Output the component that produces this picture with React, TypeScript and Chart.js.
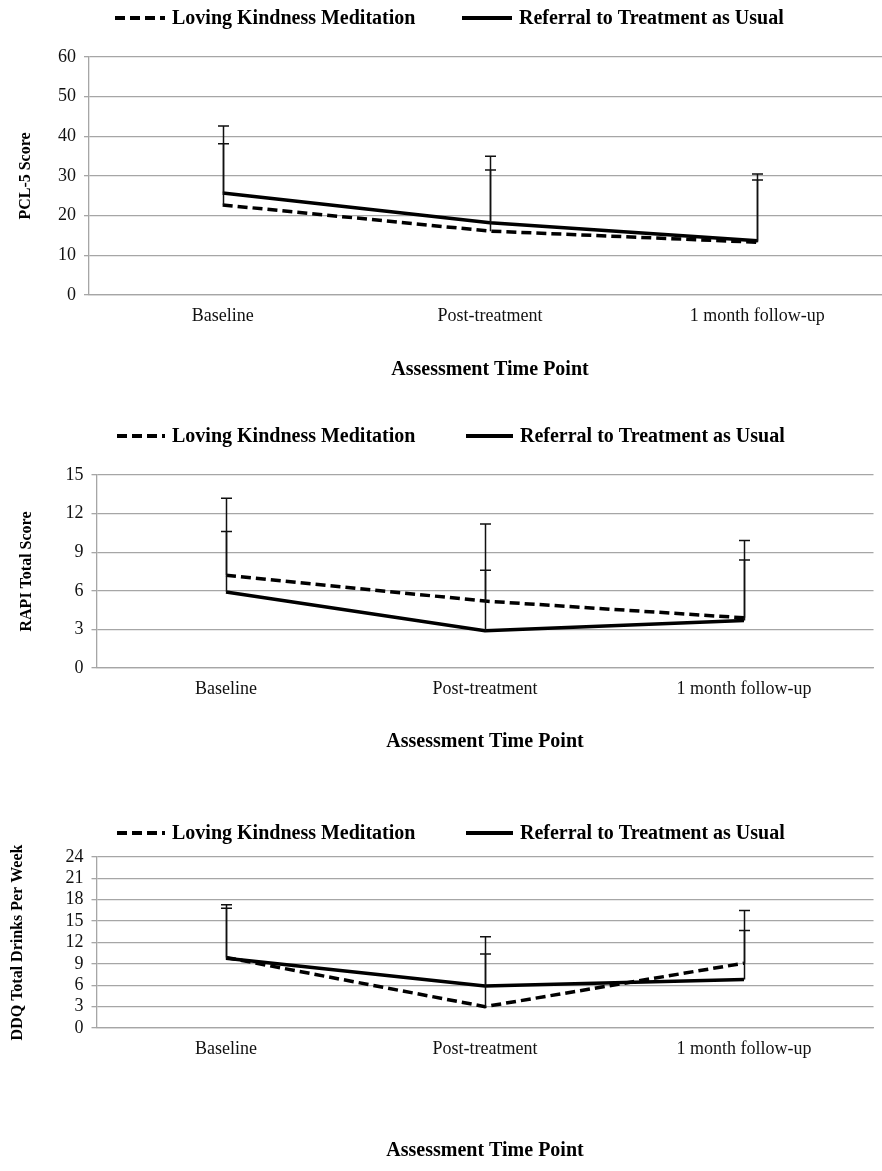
import React, { useEffect, useRef } from "react";
import { Chart, registerables } from "chart.js";

Chart.register(...registerables);

// ---------- data ----------
const categories = ["Baseline", "Post-treatment", "1 month follow-up"];
const seriesNames = ["Loving Kindness Meditation", "Referral to Treatment as Usual"];
const xAxisTitle = "Assessment Time Point";

// PCL-5
const pclLkm = [22.7, 16.1, 13.3];
const pclTau = [25.7, 18.2, 13.7];
const pclLkmSd = [15.4, 15.4, 15.7];
const pclTauSd = [16.9, 16.8, 16.8];
const pclTicks = { max: 60, step: 10 };

// RAPI
const rapiLkm = [7.2, 5.2, 3.9];
const rapiTau = [5.9, 2.9, 3.7];
const rapiLkmSd = [6.0, 6.0, 6.0];
const rapiTauSd = [4.7, 4.7, 4.7];
const rapiTicks = { max: 15, step: 3 };

// DDQ
const ddqLkm = [9.9, 3.0, 9.1];
const ddqTau = [9.8, 5.9, 6.8];
const ddqLkmSd = [7.4, 9.8, 7.4];
const ddqTauSd = [7.0, 4.5, 6.9];
const ddqTicks = { max: 24, step: 3 };

// ---------- styling / layout ----------
const PAGE_W = 882;
const SERIF = "'Liberation Serif', 'Times New Roman', serif";
const GRID = "#a6a6a6";

type Panel = {
  top: number;
  width: number;
  height: number;
  plotLeft: number;
  plotRight: number;
  plotTop: number;
  plotBottom: number;
  legendY: number;
  xTitleY: number;
  yTitleX: number;
  labelPad: number;
  yTitle: string;
  lkm: number[];
  tau: number[];
  lkmSd: number[];
  tauSd: number[];
  ticks: { max: number; step: number };
  legend: { dash: [number, number, number]; solid: [number, number, number] };
};

const panels: Panel[] = [
  {
    top: 0, width: 900, height: 405,
    plotLeft: 89, plotRight: 891, plotTop: 57, plotBottom: 295,
    legendY: 18, xTitleY: 370, yTitleX: 26, labelPad: 10,
    yTitle: "PCL-5 Score",
    lkm: pclLkm, tau: pclTau, lkmSd: pclLkmSd, tauSd: pclTauSd, ticks: pclTicks,
    legend: { dash: [115, 165, 172], solid: [462, 512, 519] },
  },
  {
    top: 405, width: 882, height: 400,
    plotLeft: 96.5, plotRight: 873.5, plotTop: 70, plotBottom: 263,
    legendY: 31, xTitleY: 337, yTitleX: 27, labelPad: 10,
    yTitle: "RAPI Total Score",
    lkm: rapiLkm, tau: rapiTau, lkmSd: rapiLkmSd, tauSd: rapiTauSd, ticks: rapiTicks,
    legend: { dash: [117, 165, 172], solid: [466, 513, 520] },
  },
  {
    top: 805, width: 882, height: 366,
    plotLeft: 96.5, plotRight: 873.5, plotTop: 52, plotBottom: 223,
    legendY: 28, xTitleY: 346, yTitleX: 18, labelPad: 10,
    yTitle: "DDQ Total Drinks Per Week",
    lkm: ddqLkm, tau: ddqTau, lkmSd: ddqLkmSd, tauSd: ddqTauSd, ticks: ddqTicks,
    legend: { dash: [117, 165, 172], solid: [466, 513, 520] },
  },
];

function PanelChart({ p }: { p: Panel }) {
  const ref = useRef<HTMLCanvasElement | null>(null);

  useEffect(() => {
    if (!ref.current) return;
    const yTitleSize = 16;
    const xTitleSize = 20;
    const yTitleLH = yTitleSize * 1.2;
    const xTitleLH = xTitleSize * 1.2;
    const padBottom = p.height - p.xTitleY - xTitleLH / 2;

    const errorBars = {
      id: "errorBars",
      afterDatasetsDraw(chart: any) {
        const ctx = chart.ctx;
        const yScale = chart.scales.y;
        const sds = [p.lkmSd, p.tauSd];
        ctx.save();
        ctx.strokeStyle = "#111";
        ctx.lineWidth = 1.5;
        chart.data.datasets.forEach((ds: any, i: number) => {
          const meta = chart.getDatasetMeta(i);
          meta.data.forEach((pt: any, j: number) => {
            const v = ds.data[j] as number;
            const yTop = yScale.getPixelForValue(v + sds[i][j]);
            const x = Math.round(pt.x) + 0.5;
            ctx.beginPath();
            ctx.moveTo(x, pt.y);
            ctx.lineTo(x, yTop);
            ctx.moveTo(x - 5.5, yTop);
            ctx.lineTo(x + 5.5, yTop);
            ctx.stroke();
          });
        });
        ctx.restore();
      },
    };

    const legendPlugin = {
      id: "customLegend",
      afterDraw(chart: any) {
        const ctx = chart.ctx;
        ctx.save();
        ctx.strokeStyle = "#000";
        ctx.fillStyle = "#000";
        ctx.lineWidth = 4;
        ctx.font = `bold 20px ${SERIF}`;
        ctx.textBaseline = "middle";
        const y = p.legendY;
        const items: [number[], number[]][] = [
          [p.legend.dash, [10, 5]],
          [p.legend.solid, []],
        ];
        items.forEach(([pos, dash], i) => {
          ctx.beginPath();
          ctx.setLineDash(dash);
          ctx.moveTo(pos[0], y);
          ctx.lineTo(pos[1], y);
          ctx.stroke();
          ctx.setLineDash([]);
          ctx.fillText(chart.data.datasets[i].label, pos[2], y + 1);
        });
        ctx.restore();
      },
    };

    const chart = new Chart(ref.current, {
      type: "line",
      data: {
        labels: categories,
        datasets: [
          {
            label: seriesNames[0],
            data: p.lkm,
            borderColor: "#000",
            backgroundColor: "#000",
            borderWidth: 3.5,
            borderDash: [10, 5],
            pointRadius: 0,
            tension: 0,
            fill: false,
          },
          {
            label: seriesNames[1],
            data: p.tau,
            borderColor: "#000",
            backgroundColor: "#000",
            borderWidth: 3.5,
            pointRadius: 0,
            tension: 0,
            fill: false,
          },
        ],
      },
      options: {
        responsive: false,
        animation: false,
        events: [],
        layout: {
          padding: { left: 0, right: p.width - p.plotRight, top: p.plotTop, bottom: padBottom },
        },
        plugins: {
          legend: { display: false },
          tooltip: { enabled: false },
        },
        scales: {
          x: {
            type: "category",
            offset: true,
            grid: { display: false, drawTicks: false },
            border: { display: true, color: GRID, width: 1.3 },
            ticks: {
              color: "#111",
              font: { family: SERIF, size: 18 },
              padding: p.labelPad,
              maxRotation: 0,
              autoSkip: false,
            },
            title: {
              display: true,
              text: xAxisTitle,
              color: "#000",
              font: { family: SERIF, size: xTitleSize, weight: "bold" },
              padding: { top: 0, bottom: 0 },
            },
            afterFit(scale: any) {
              scale.height = p.height - padBottom - p.plotBottom;
            },
          },
          y: {
            min: 0,
            max: p.ticks.max,
            ticks: {
              stepSize: p.ticks.step,
              autoSkip: false,
              color: "#111",
              font: { family: SERIF, size: 18 },
              padding: 8,
            },
            grid: { color: GRID, lineWidth: 1.3, tickLength: 5 },
            border: { display: true, color: GRID, width: 1.3 },
            title: {
              display: true,
              text: p.yTitle,
              color: "#000",
              font: { family: SERIF, size: yTitleSize, weight: "bold" },
              padding: { top: p.yTitleX - yTitleLH / 2, bottom: 0 },
            },
            afterFit(scale: any) {
              scale.width = p.plotLeft;
            },
          },
        },
      },
      plugins: [errorBars, legendPlugin],
    });
    return () => chart.destroy();
  }, [p]);

  return (
    <canvas
      ref={ref}
      width={p.width}
      height={p.height}
      style={{ position: "absolute", left: 0, top: p.top, width: p.width, height: p.height }}
    />
  );
}

export default function App() {
  return (
    <div
      style={{
        position: "absolute",
        left: 0,
        top: 0,
        width: PAGE_W,
        height: 1171,
        background: "#fff",
        overflow: "hidden",
      }}
    >
      {panels.map((p, i) => (
        <PanelChart key={i} p={p} />
      ))}
    </div>
  );
}
